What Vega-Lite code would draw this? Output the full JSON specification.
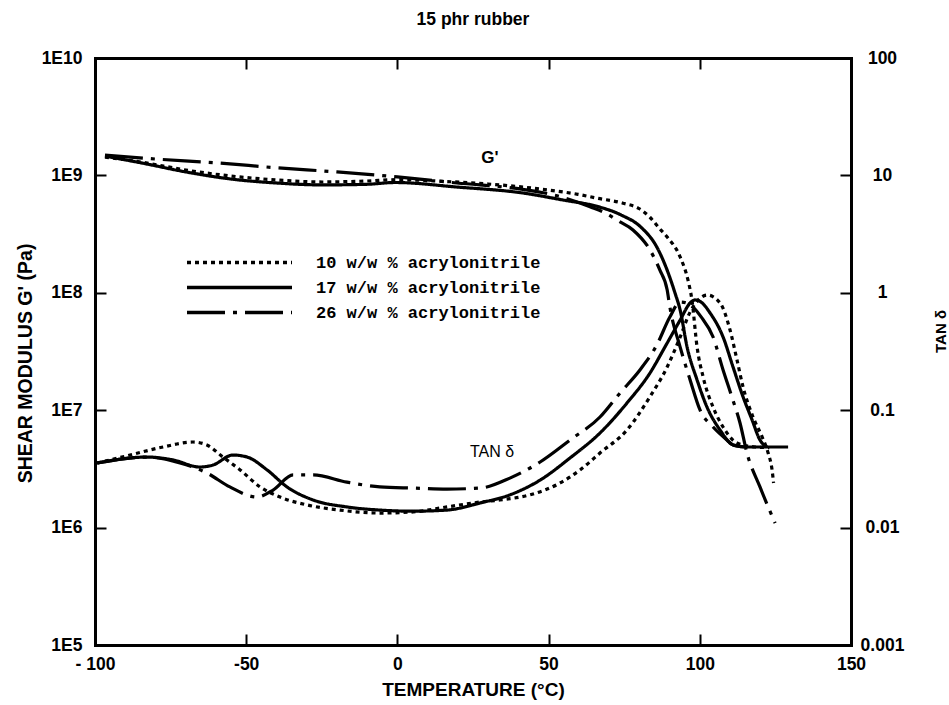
{
  "$schema": "https://vega.github.io/schema/vega-lite/v6.json",
  "width": 756,
  "height": 587,
  "autosize": {"type": "none"},
  "padding": {"left": 95, "top": 58, "right": 98, "bottom": 60},
  "background": "white",
  "title": {
    "text": "15 phr rubber",
    "font": "Liberation Sans",
    "fontSize": 17.5,
    "fontWeight": "bold",
    "color": "black",
    "anchor": "middle",
    "offset": 21
  },
  "datasets": {
    "modulus": [
      {"T": -96.7, "series": "10 w/w % acrylonitrile", "G": 1.43e9},
      {"T": -84.8, "series": "10 w/w % acrylonitrile", "G": 1.30e9},
      {"T": -69.9, "series": "10 w/w % acrylonitrile", "G": 1.11e9},
      {"T": -55.0, "series": "10 w/w % acrylonitrile", "G": 9.88e8},
      {"T": -39.8, "series": "10 w/w % acrylonitrile", "G": 9.14e8},
      {"T": -24.9, "series": "10 w/w % acrylonitrile", "G": 8.79e8},
      {"T": -10.1, "series": "10 w/w % acrylonitrile", "G": 8.96e8},
      {"T": 0.0, "series": "10 w/w % acrylonitrile", "G": 9.2e8},
      {"T": 15.0, "series": "10 w/w % acrylonitrile", "G": 8.9e8},
      {"T": 30.0, "series": "10 w/w % acrylonitrile", "G": 8.45e8},
      {"T": 49.8, "series": "10 w/w % acrylonitrile", "G": 7.51e8},
      {"T": 59.7, "series": "10 w/w % acrylonitrile", "G": 6.9e8},
      {"T": 66.0, "series": "10 w/w % acrylonitrile", "G": 6.4e8},
      {"T": 74.6, "series": "10 w/w % acrylonitrile", "G": 5.8e8},
      {"T": 80.0, "series": "10 w/w % acrylonitrile", "G": 5.2e8},
      {"T": 83.5, "series": "10 w/w % acrylonitrile", "G": 4.4e8},
      {"T": 86.8, "series": "10 w/w % acrylonitrile", "G": 3.5e8},
      {"T": 89.2, "series": "10 w/w % acrylonitrile", "G": 2.99e8},
      {"T": 93.5, "series": "10 w/w % acrylonitrile", "G": 2.02e8},
      {"T": 96.1, "series": "10 w/w % acrylonitrile", "G": 1.28e8},
      {"T": 97.4, "series": "10 w/w % acrylonitrile", "G": 8.69e7},
      {"T": 99.1, "series": "10 w/w % acrylonitrile", "G": 3.45e7},
      {"T": 101.1, "series": "10 w/w % acrylonitrile", "G": 1.92e7},
      {"T": 104.4, "series": "10 w/w % acrylonitrile", "G": 1.06e7},
      {"T": 107.7, "series": "10 w/w % acrylonitrile", "G": 7.19e6},
      {"T": 112.3, "series": "10 w/w % acrylonitrile", "G": 5.26e6},
      {"T": 118.3, "series": "10 w/w % acrylonitrile", "G": 4.86e6},
      {"T": 123.0, "series": "10 w/w % acrylonitrile", "G": 4.8e6},

      {"T": -96.7, "series": "17 w/w % acrylonitrile", "G": 1.46e9},
      {"T": -84.8, "series": "17 w/w % acrylonitrile", "G": 1.28e9},
      {"T": -69.9, "series": "17 w/w % acrylonitrile", "G": 1.07e9},
      {"T": -55.0, "series": "17 w/w % acrylonitrile", "G": 9.31e8},
      {"T": -39.8, "series": "17 w/w % acrylonitrile", "G": 8.61e8},
      {"T": -24.9, "series": "17 w/w % acrylonitrile", "G": 8.3e8},
      {"T": -10.1, "series": "17 w/w % acrylonitrile", "G": 8.4e8},
      {"T": -0.8, "series": "17 w/w % acrylonitrile", "G": 8.7e8},
      {"T": 19.7, "series": "17 w/w % acrylonitrile", "G": 7.96e8},
      {"T": 41.5, "series": "17 w/w % acrylonitrile", "G": 7.08e8},
      {"T": 54.8, "series": "17 w/w % acrylonitrile", "G": 6.17e8},
      {"T": 66.0, "series": "17 w/w % acrylonitrile", "G": 5.45e8},
      {"T": 74.0, "series": "17 w/w % acrylonitrile", "G": 4.6e8},
      {"T": 80.5, "series": "17 w/w % acrylonitrile", "G": 3.63e8},
      {"T": 85.8, "series": "17 w/w % acrylonitrile", "G": 2.45e8},
      {"T": 89.2, "series": "17 w/w % acrylonitrile", "G": 1.56e8},
      {"T": 91.8, "series": "17 w/w % acrylonitrile", "G": 9.96e7},
      {"T": 93.5, "series": "17 w/w % acrylonitrile", "G": 7.13e7},
      {"T": 95.8, "series": "17 w/w % acrylonitrile", "G": 3.45e7},
      {"T": 99.1, "series": "17 w/w % acrylonitrile", "G": 1.81e7},
      {"T": 102.4, "series": "17 w/w % acrylonitrile", "G": 1.06e7},
      {"T": 106.7, "series": "17 w/w % acrylonitrile", "G": 6.78e6},
      {"T": 111.0, "series": "17 w/w % acrylonitrile", "G": 5.06e6},
      {"T": 115.6, "series": "17 w/w % acrylonitrile", "G": 4.86e6},
      {"T": 129.2, "series": "17 w/w % acrylonitrile", "G": 4.86e6},

      {"T": -96.7, "series": "26 w/w % acrylonitrile", "G": 1.49e9},
      {"T": -80.2, "series": "26 w/w % acrylonitrile", "G": 1.38e9},
      {"T": -60.0, "series": "26 w/w % acrylonitrile", "G": 1.28e9},
      {"T": -39.8, "series": "26 w/w % acrylonitrile", "G": 1.16e9},
      {"T": -20.0, "series": "26 w/w % acrylonitrile", "G": 1.07e9},
      {"T": 0.0, "series": "26 w/w % acrylonitrile", "G": 9.7e8},
      {"T": 19.7, "series": "26 w/w % acrylonitrile", "G": 8.61e8},
      {"T": 41.5, "series": "26 w/w % acrylonitrile", "G": 7.6e8},
      {"T": 52.8, "series": "26 w/w % acrylonitrile", "G": 6.7e8},
      {"T": 63.7, "series": "26 w/w % acrylonitrile", "G": 5.4e8},
      {"T": 69.3, "series": "26 w/w % acrylonitrile", "G": 4.7e8},
      {"T": 73.0, "series": "26 w/w % acrylonitrile", "G": 4.1e8},
      {"T": 77.9, "series": "26 w/w % acrylonitrile", "G": 3.43e8},
      {"T": 83.5, "series": "26 w/w % acrylonitrile", "G": 2.32e8},
      {"T": 86.8, "series": "26 w/w % acrylonitrile", "G": 1.56e8},
      {"T": 89.2, "series": "26 w/w % acrylonitrile", "G": 1.06e8},
      {"T": 90.1, "series": "26 w/w % acrylonitrile", "G": 7.57e7},
      {"T": 93.5, "series": "26 w/w % acrylonitrile", "G": 3.45e7},
      {"T": 96.8, "series": "26 w/w % acrylonitrile", "G": 1.81e7},
      {"T": 100.1, "series": "26 w/w % acrylonitrile", "G": 1.0e7},
      {"T": 104.4, "series": "26 w/w % acrylonitrile", "G": 7.19e6},
      {"T": 109.0, "series": "26 w/w % acrylonitrile", "G": 5.57e6},
      {"T": 111.0, "series": "26 w/w % acrylonitrile", "G": 5.06e6},
      {"T": 115.0, "series": "26 w/w % acrylonitrile", "G": 4.86e6}
    ],
    "tandelta": [
      {"T": -99.3, "series": "10 w/w % acrylonitrile", "tan": 0.0355},
      {"T": -88.4, "series": "10 w/w % acrylonitrile", "tan": 0.0415},
      {"T": -77.5, "series": "10 w/w % acrylonitrile", "tan": 0.0486},
      {"T": -67.6, "series": "10 w/w % acrylonitrile", "tan": 0.0536},
      {"T": -63.0, "series": "10 w/w % acrylonitrile", "tan": 0.0506},
      {"T": -57.7, "series": "10 w/w % acrylonitrile", "tan": 0.0399},
      {"T": -52.0, "series": "10 w/w % acrylonitrile", "tan": 0.0310},
      {"T": -45.4, "series": "10 w/w % acrylonitrile", "tan": 0.0222},
      {"T": -38.8, "series": "10 w/w % acrylonitrile", "tan": 0.0182},
      {"T": -29.9, "series": "10 w/w % acrylonitrile", "tan": 0.0156},
      {"T": -19.0, "series": "10 w/w % acrylonitrile", "tan": 0.0141},
      {"T": -5.8, "series": "10 w/w % acrylonitrile", "tan": 0.0133},
      {"T": 5.2, "series": "10 w/w % acrylonitrile", "tan": 0.0136},
      {"T": 16.4, "series": "10 w/w % acrylonitrile", "tan": 0.0150},
      {"T": 27.3, "series": "10 w/w % acrylonitrile", "tan": 0.0165},
      {"T": 33.9, "series": "10 w/w % acrylonitrile", "tan": 0.0172},
      {"T": 43.8, "series": "10 w/w % acrylonitrile", "tan": 0.0190},
      {"T": 53.8, "series": "10 w/w % acrylonitrile", "tan": 0.0240},
      {"T": 60.4, "series": "10 w/w % acrylonitrile", "tan": 0.0310},
      {"T": 67.0, "series": "10 w/w % acrylonitrile", "tan": 0.0432},
      {"T": 75.9, "series": "10 w/w % acrylonitrile", "tan": 0.0678},
      {"T": 83.5, "series": "10 w/w % acrylonitrile", "tan": 0.130},
      {"T": 89.2, "series": "10 w/w % acrylonitrile", "tan": 0.233},
      {"T": 93.5, "series": "10 w/w % acrylonitrile", "tan": 0.420},
      {"T": 96.8, "series": "10 w/w % acrylonitrile", "tan": 0.686},
      {"T": 99.5, "series": "10 w/w % acrylonitrile", "tan": 0.869},
      {"T": 102.4, "series": "10 w/w % acrylonitrile", "tan": 0.958},
      {"T": 106.7, "series": "10 w/w % acrylonitrile", "tan": 0.819},
      {"T": 110.0, "series": "10 w/w % acrylonitrile", "tan": 0.482},
      {"T": 112.3, "series": "10 w/w % acrylonitrile", "tan": 0.268},
      {"T": 114.3, "series": "10 w/w % acrylonitrile", "tan": 0.158},
      {"T": 117.6, "series": "10 w/w % acrylonitrile", "tan": 0.0875},
      {"T": 120.6, "series": "10 w/w % acrylonitrile", "tan": 0.0592},
      {"T": 122.6, "series": "10 w/w % acrylonitrile", "tan": 0.0432},
      {"T": 123.9, "series": "10 w/w % acrylonitrile", "tan": 0.0310},
      {"T": 124.4, "series": "10 w/w % acrylonitrile", "tan": 0.0240},

      {"T": -99.3, "series": "17 w/w % acrylonitrile", "tan": 0.0355},
      {"T": -82.8, "series": "17 w/w % acrylonitrile", "tan": 0.0399},
      {"T": -74.2, "series": "17 w/w % acrylonitrile", "tan": 0.0377},
      {"T": -65.3, "series": "17 w/w % acrylonitrile", "tan": 0.0328},
      {"T": -61.0, "series": "17 w/w % acrylonitrile", "tan": 0.0341},
      {"T": -54.4, "series": "17 w/w % acrylonitrile", "tan": 0.0415},
      {"T": -49.7, "series": "17 w/w % acrylonitrile", "tan": 0.0399},
      {"T": -43.1, "series": "17 w/w % acrylonitrile", "tan": 0.0310},
      {"T": -36.5, "series": "17 w/w % acrylonitrile", "tan": 0.0222},
      {"T": -27.9, "series": "17 w/w % acrylonitrile", "tan": 0.0172},
      {"T": -16.7, "series": "17 w/w % acrylonitrile", "tan": 0.0150},
      {"T": -5.8, "series": "17 w/w % acrylonitrile", "tan": 0.0141},
      {"T": 5.2, "series": "17 w/w % acrylonitrile", "tan": 0.0138},
      {"T": 16.4, "series": "17 w/w % acrylonitrile", "tan": 0.0141},
      {"T": 27.3, "series": "17 w/w % acrylonitrile", "tan": 0.0162},
      {"T": 37.2, "series": "17 w/w % acrylonitrile", "tan": 0.0190},
      {"T": 47.2, "series": "17 w/w % acrylonitrile", "tan": 0.0254},
      {"T": 57.1, "series": "17 w/w % acrylonitrile", "tan": 0.0392},
      {"T": 67.0, "series": "17 w/w % acrylonitrile", "tan": 0.0640},
      {"T": 75.9, "series": "17 w/w % acrylonitrile", "tan": 0.115},
      {"T": 83.5, "series": "17 w/w % acrylonitrile", "tan": 0.207},
      {"T": 89.2, "series": "17 w/w % acrylonitrile", "tan": 0.373},
      {"T": 93.5, "series": "17 w/w % acrylonitrile", "tan": 0.586},
      {"T": 96.8, "series": "17 w/w % acrylonitrile", "tan": 0.819},
      {"T": 98.4, "series": "17 w/w % acrylonitrile", "tan": 0.869},
      {"T": 100.5, "series": "17 w/w % acrylonitrile", "tan": 0.83},
      {"T": 103.4, "series": "17 w/w % acrylonitrile", "tan": 0.673},
      {"T": 107.7, "series": "17 w/w % acrylonitrile", "tan": 0.420},
      {"T": 111.0, "series": "17 w/w % acrylonitrile", "tan": 0.233},
      {"T": 114.3, "series": "17 w/w % acrylonitrile", "tan": 0.130},
      {"T": 117.3, "series": "17 w/w % acrylonitrile", "tan": 0.0826},
      {"T": 119.9, "series": "17 w/w % acrylonitrile", "tan": 0.0557},
      {"T": 122.2, "series": "17 w/w % acrylonitrile", "tan": 0.0486},

      {"T": -99.3, "series": "26 w/w % acrylonitrile", "tan": 0.0355},
      {"T": -82.8, "series": "26 w/w % acrylonitrile", "tan": 0.0399},
      {"T": -71.9, "series": "26 w/w % acrylonitrile", "tan": 0.0355},
      {"T": -63.0, "series": "26 w/w % acrylonitrile", "tan": 0.0292},
      {"T": -55.4, "series": "26 w/w % acrylonitrile", "tan": 0.0222},
      {"T": -46.4, "series": "26 w/w % acrylonitrile", "tan": 0.0182},
      {"T": -41.1, "series": "26 w/w % acrylonitrile", "tan": 0.0209},
      {"T": -34.5, "series": "26 w/w % acrylonitrile", "tan": 0.0281},
      {"T": -27.9, "series": "26 w/w % acrylonitrile", "tan": 0.0281},
      {"T": -16.7, "series": "26 w/w % acrylonitrile", "tan": 0.0244},
      {"T": -5.8, "series": "26 w/w % acrylonitrile", "tan": 0.0222},
      {"T": 5.2, "series": "26 w/w % acrylonitrile", "tan": 0.0217},
      {"T": 16.4, "series": "26 w/w % acrylonitrile", "tan": 0.0213},
      {"T": 27.3, "series": "26 w/w % acrylonitrile", "tan": 0.0217},
      {"T": 37.2, "series": "26 w/w % acrylonitrile", "tan": 0.0264},
      {"T": 47.2, "series": "26 w/w % acrylonitrile", "tan": 0.0362},
      {"T": 57.1, "series": "26 w/w % acrylonitrile", "tan": 0.0557},
      {"T": 67.0, "series": "26 w/w % acrylonitrile", "tan": 0.0875},
      {"T": 73.6, "series": "26 w/w % acrylonitrile", "tan": 0.140},
      {"T": 80.2, "series": "26 w/w % acrylonitrile", "tan": 0.220},
      {"T": 85.8, "series": "26 w/w % acrylonitrile", "tan": 0.36},
      {"T": 90.1, "series": "26 w/w % acrylonitrile", "tan": 0.622},
      {"T": 93.5, "series": "26 w/w % acrylonitrile", "tan": 0.835},
      {"T": 96.5, "series": "26 w/w % acrylonitrile", "tan": 0.80},
      {"T": 100.5, "series": "26 w/w % acrylonitrile", "tan": 0.62},
      {"T": 104.4, "series": "26 w/w % acrylonitrile", "tan": 0.420},
      {"T": 107.7, "series": "26 w/w % acrylonitrile", "tan": 0.220},
      {"T": 110.6, "series": "26 w/w % acrylonitrile", "tan": 0.130},
      {"T": 113.3, "series": "26 w/w % acrylonitrile", "tan": 0.0778},
      {"T": 115.6, "series": "26 w/w % acrylonitrile", "tan": 0.0432},
      {"T": 119.9, "series": "26 w/w % acrylonitrile", "tan": 0.0222},
      {"T": 124.9, "series": "26 w/w % acrylonitrile", "tan": 0.0109}
    ],
    "modulusNotes": [{"label": "G'", "T": 30.6, "G": 1.41e9}],
    "tanNotes": [{"label": "TAN δ", "T": 31.3, "tan": 0.044}]
  },
  "layer": [
    {
      "data": {"name": "modulus"},
      "mark": {"type": "line", "interpolate": "monotone", "color": "black", "strokeWidth": 3.2},
      "encoding": {
        "x": {
          "field": "T",
          "type": "quantitative",
          "scale": {"domain": [-100, 150], "nice": false, "zero": false},
          "axis": {
            "orient": "bottom",
            "values": [-100, -50, 0, 50, 100, 150],
            "labelExpr": "datum.value == -100 ? '- 100' : (datum.value < 0 ? '-' + abs(datum.value) : '' + datum.value)",
            "labelPadding": 21,
            "title": "TEMPERATURE (°C)",
            "titleFontSize": 19,
            "titlePadding": 8
          }
        },
        "y": {
          "field": "G",
          "type": "quantitative",
          "scale": {"type": "log", "domain": [1e5, 1e10], "nice": false},
          "axis": {
            "orient": "left",
            "values": [1e5, 1e6, 1e7, 1e8, 1e9, 1e10],
            "labelExpr": "'1E' + round(log(datum.value) / LN10)",
            "labelPadding": 24,
            "title": "SHEAR MODULUS G' (Pa)",
            "titleFontSize": 19.5,
            "titleAngle": 270,
            "titleX": -70,
            "titleY": 305,
            "titleAlign": "center",
            "titleBaseline": "middle"
          }
        },
        "strokeDash": {
          "field": "series",
          "type": "nominal",
          "scale": {
            "domain": ["10 w/w % acrylonitrile", "17 w/w % acrylonitrile", "26 w/w % acrylonitrile"],
            "range": [[4, 4], [1, 0], [38, 8, 4, 8]]
          },
          "legend": {
            "orient": "none",
            "legendX": 90,
            "legendY": 193,
            "title": null,
            "symbolType": "stroke",
            "symbolSize": 11025,
            "symbolStrokeWidth": 3.5,
            "symbolStrokeColor": "black",
            "clipHeight": 23,
            "rowPadding": 2,
            "labelOffset": 22,
            "labelFont": "Liberation Mono",
            "labelFontSize": 17,
            "labelFontWeight": "bold",
            "labelColor": "black",
            "labelLimit": 400,
            "padding": 0
          }
        }
      }
    },
    {
      "data": {"name": "modulusNotes"},
      "mark": {"type": "text", "font": "Liberation Sans", "fontSize": 17, "fontWeight": "bold", "color": "black"},
      "encoding": {
        "x": {"field": "T", "type": "quantitative", "axis": null},
        "y": {"field": "G", "type": "quantitative", "scale": {"type": "log", "domain": [1e5, 1e10], "nice": false}, "axis": null},
        "text": {"field": "label"}
      }
    },
    {
      "data": {"name": "tandelta"},
      "mark": {"type": "line", "interpolate": "monotone", "color": "black", "strokeWidth": 3.2},
      "encoding": {
        "x": {
          "field": "T",
          "type": "quantitative",
          "axis": {
            "orient": "top",
            "values": [-100, -50, 0, 50, 100, 150],
            "labels": false,
            "title": null
          }
        },
        "y": {
          "field": "tan",
          "type": "quantitative",
          "scale": {"type": "log", "domain": [0.001, 100], "nice": false},
          "axis": {
            "orient": "right",
            "values": [0.001, 0.01, 0.1, 1, 10, 100],
            "labelExpr": "format(datum.value, '~g')",
            "labelAlign": "center",
            "labelPadding": 42,
            "title": "TAN δ",
            "titleFontSize": 15,
            "titleAngle": 270,
            "titleX": 89,
            "titleY": 273,
            "titleAlign": "center",
            "titleBaseline": "middle"
          }
        },
        "strokeDash": {"field": "series", "type": "nominal", "legend": null}
      }
    },
    {
      "data": {"name": "tanNotes"},
      "mark": {"type": "text", "font": "Liberation Sans", "fontSize": 16, "color": "black"},
      "encoding": {
        "x": {"field": "T", "type": "quantitative", "axis": null},
        "y": {"field": "tan", "type": "quantitative", "scale": {"type": "log", "domain": [0.001, 100], "nice": false}, "axis": null},
        "text": {"field": "label"}
      }
    }
  ],
  "resolve": {"scale": {"y": "independent"}, "axis": {"x": "independent"}},
  "config": {
    "view": {"stroke": null},
    "font": "Liberation Sans",
    "axis": {
      "grid": false,
      "domainColor": "black",
      "domainWidth": 3,
      "domainCap": "square",
      "tickColor": "black",
      "tickWidth": 2,
      "tickSize": -11,
      "labelFont": "Liberation Sans",
      "labelFontSize": 17.5,
      "labelFontWeight": "bold",
      "labelColor": "black",
      "labelFlush": false,
      "labelOverlap": false,
      "titleFont": "Liberation Sans",
      "titleFontSize": 16,
      "titleFontWeight": "bold",
      "titleColor": "black"
    }
  }
}
